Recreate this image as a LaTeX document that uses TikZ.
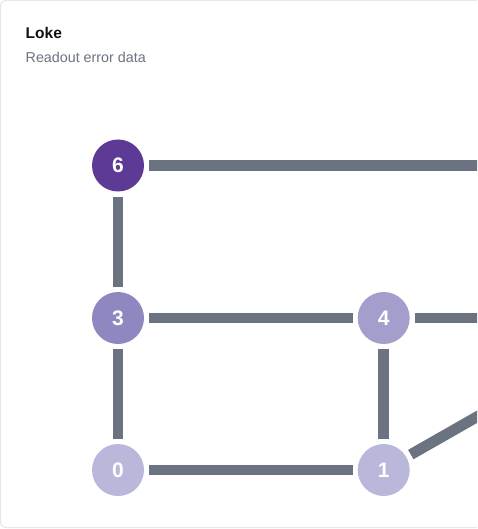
\documentclass[tikz,border=0pt]{standalone}
\usepackage{fontspec}
\setmainfont{Liberation Sans}
\definecolor{cardline}{HTML}{E5E7EB}
\definecolor{edgegray}{HTML}{6B7280}
\definecolor{subgray}{HTML}{6B7280}
\definecolor{titleblack}{HTML}{111111}
\definecolor{qsix}{HTML}{5C3A96}
\definecolor{qthree}{HTML}{8E87C0}
\definecolor{qfour}{HTML}{A39ECC}
\definecolor{qlow}{HTML}{B9B7DA}
\tikzset{
  qubit/.style={circle, minimum size=52pt, inner sep=0pt, draw=none,
    text=white, font=\fontsize{21}{21}\selectfont\bfseries},
  link/.style={draw=edgegray, line width=10.8pt, line cap=butt,
    shorten <=5pt, shorten >=5pt},
  linkout/.style={draw=edgegray, line width=10.8pt, line cap=butt,
    shorten <=5pt},
  label/.style={anchor=base west, inner sep=0pt},
}
\begin{document}
\begin{tikzpicture}[x=1pt,y=-1pt]
\useasboundingbox (0,0) rectangle (477,529);
\clip (0,0) rectangle (477,529);
\fill[white] (0,0) rectangle (477,529);
\draw[cardline, line width=1pt, rounded corners=6pt] (0.5,0.5) rectangle (495,527.5);
\node[label, text=titleblack, font=\fontsize{15.5}{15.5}\selectfont\bfseries] (title) at (25.5,39) {Loke};
\node[label, text=subgray, font=\fontsize{14.3}{14.3}\selectfont] (subtitle) at (25.5,62.3) {Readout error data};
\node[qubit, fill=qsix] (n6) at (118,165.5) {6};
\node[qubit, fill=qthree] (n3) at (118,318) {3};
\node[qubit, fill=qfour] (n4) at (383.7,318) {4};
\node[qubit, fill=qlow] (n0) at (118,470) {0};
\node[qubit, fill=qlow] (n1) at (383.7,470) {1};
\coordinate (r6) at (500,165.5);
\coordinate (r4) at (500,318);
\coordinate (r1) at (496.6,405.6);
\draw[link] (n6) -- (n3);
\draw[link] (n3) -- (n0);
\draw[link] (n3) -- (n4);
\draw[link] (n4) -- (n1);
\draw[link] (n0) -- (n1);
\draw[linkout] (n6) -- (r6);
\draw[linkout] (n4) -- (r4);
\draw[linkout] (n1) -- (r1);
\end{tikzpicture}
\end{document}
